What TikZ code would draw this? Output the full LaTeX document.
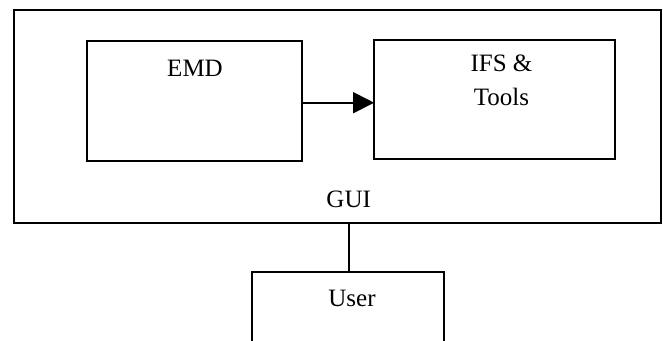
\documentclass[tikz,border=0pt]{standalone}
\usepackage{fontspec}
\setmainfont{Liberation Serif}
\usetikzlibrary{arrows.meta}
\begin{document}
\begin{tikzpicture}[x=1pt,y=-1pt,
  box/.style={draw=black,line width=2pt,rectangle,inner sep=0pt,outer sep=0pt},
  lbl/.style={font=\fontsize{25}{33}\selectfont,inner sep=0pt,anchor=base},
  conn/.style={draw=black,line width=1.8pt}]
\useasboundingbox (0,0) rectangle (663,340);
\fill[white] (0,0) rectangle (663,340);
\node[box,minimum width=647pt,minimum height=213pt] (gui) at (337.5,116.5) {};
\node[box,minimum width=215pt,minimum height=120pt] (emd) at (194.6,100.8) {};
\node[box,minimum width=241pt,minimum height=119pt] (ifs) at (494.6,99.2) {};
\node[lbl] (emdt) at (195,76) {EMD};
\node[lbl] (ifst1) at (501.5,71.7) {IFS \&};
\node[lbl] (ifst2) at (501.5,105) {Tools};
\node[lbl] (guit) at (348.7,207.3) {GUI};
\begin{scope}
\clip (0,0) rectangle (663,340);
\node[box,minimum width=192pt,minimum height=100pt] (user) at (348,322) {};
\end{scope}
\node[lbl] (usert) at (352,306) {User};
\coordinate (a1) at (emd.east |- 0,102.7);
\coordinate (a2) at (ifs.west |- 0,102.7);
\draw[conn,-{Triangle[length=21pt,width=21pt]}] (a1) -- (a2);
\draw[conn] (gui.south -| 349,0) -- (user.north -| 349,0);
\end{tikzpicture}
\end{document}
